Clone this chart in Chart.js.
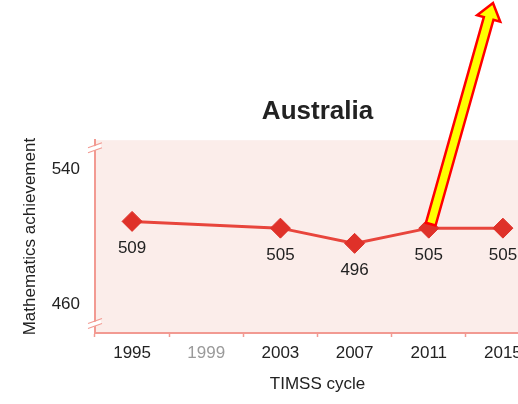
<!DOCTYPE html>
<html>
<head>
<meta charset="utf-8">
<script src="https://cdn.jsdelivr.net/npm/chart.js@4/dist/chart.umd.min.js"></script>
<style>
  html, body { margin: 0; padding: 0; background: #fff; overflow: hidden; }
  #wrap { width: 551px; height: 404px; }
</style>
</head>
<body>
<div id="wrap"><canvas id="chart" width="551" height="404"></canvas></div>
<script>
// Data
const cycles = ['1995', '1999', '2003', '2007', '2011', '2015'];
const scores = [509, null, 505, 496, 505, 505];
const scoreLabels = ['509', '', '505', '496', '505', '505'];
const yTicks = [460, 540];

const FONT = "'Liberation Sans', Arial, sans-serif";
const COLORS = {
  plotBg: '#FBEDEA',
  axis: '#F29A92',
  line: '#E8453C',
  marker: '#DF3129',
  text: '#222222',
  muted: '#9A9A9A'
};

// pink plot background
const plotBackground = {
  id: 'plotBackground',
  beforeDraw(chart) {
    const { ctx, chartArea: a } = chart;
    ctx.save();
    ctx.fillStyle = COLORS.plotBg;
    ctx.fillRect(a.left, a.top, a.right - a.left, a.bottom - a.top);
    ctx.restore();
  }
};

// value labels under each point
const valueLabels = {
  id: 'valueLabels',
  afterDatasetsDraw(chart) {
    const { ctx } = chart;
    const meta = chart.getDatasetMeta(0);
    ctx.save();
    ctx.font = '17px ' + FONT;
    ctx.fillStyle = COLORS.text;
    ctx.textAlign = 'center';
    ctx.textBaseline = 'middle';
    meta.data.forEach((pt, i) => {
      if (scores[i] == null) return;
      ctx.fillText(scoreLabels[i], pt.x, pt.y + 27);
    });
    ctx.restore();
  }
};

// axis break marks + callout arrow
const extras = {
  id: 'extras',
  afterDraw(chart) {
    const { ctx, chartArea: a } = chart;
    const x = a.left;
    ctx.save();
    [a.top + 8, a.bottom - 9].forEach(y => {
      ctx.strokeStyle = '#ffffff';
      ctx.lineWidth = 4;
      ctx.beginPath();
      ctx.moveTo(x - 6, y + 2);
      ctx.lineTo(x + 6, y - 2);
      ctx.stroke();
      ctx.strokeStyle = COLORS.axis;
      ctx.lineWidth = 1.2;
      [-2.5, 2.5].forEach(d => {
        ctx.beginPath();
        ctx.moveTo(x - 7, y + 2 + d);
        ctx.lineTo(x + 7, y - 3 + d);
        ctx.stroke();
      });
    });

    // arrow from the 2011 point up to the top edge
    const p = chart.getDatasetMeta(0).data[4];
    const sx = p.x + 2, sy = p.y - 4;
    const ex = 493, ey = 3;
    const ang = Math.atan2(ey - sy, ex - sx);
    const len = Math.hypot(ex - sx, ey - sy);
    const shaft = 5, head = 12, headLen = 16;
    ctx.translate(sx, sy);
    ctx.rotate(ang);
    ctx.beginPath();
    ctx.moveTo(0, -shaft);
    ctx.lineTo(len - headLen, -shaft);
    ctx.lineTo(len - headLen, -head);
    ctx.lineTo(len, 0);
    ctx.lineTo(len - headLen, head);
    ctx.lineTo(len - headLen, shaft);
    ctx.lineTo(0, shaft);
    ctx.closePath();
    ctx.fillStyle = '#FFFF00';
    ctx.fill();
    ctx.strokeStyle = '#FF0000';
    ctx.lineWidth = 2.5;
    ctx.lineJoin = 'miter';
    ctx.stroke();
    ctx.restore();
  }
};

new Chart(document.getElementById('chart'), {
  type: 'line',
  data: {
    labels: cycles,
    datasets: [{
      data: scores,
      borderColor: COLORS.line,
      borderWidth: 3,
      spanGaps: true,
      tension: 0,
      pointStyle: 'rectRot',
      pointRadius: 10,
      pointBackgroundColor: COLORS.marker,
      pointBorderColor: COLORS.marker,
      pointBorderWidth: 1
    }]
  },
  options: {
    responsive: false,
    animation: false,
    devicePixelRatio: 1,
    layout: { padding: { left: 0, right: 6, top: 0, bottom: 0 } },
    plugins: {
      legend: { display: false },
      tooltip: { enabled: false },
      title: {
        display: true,
        text: 'Australia',
        fullSize: false,
        color: COLORS.text,
        font: { family: FONT, size: 26, weight: 'bold' },
        padding: { top: 96, bottom: 13 }
      }
    },
    scales: {
      x: {
        offset: true,
        afterFit: (scale) => { scale.height = 71; },
        border: { color: COLORS.axis, width: 2 },
        grid: {
          offset: true,
          drawOnChartArea: false,
          color: COLORS.axis,
          tickLength: 4,
          tickWidth: 1.5
        },
        ticks: {
          padding: 6,
          color: (c) => c.index === 1 ? COLORS.muted : COLORS.text,
          font: { family: FONT, size: 17 }
        },
        title: {
          display: true,
          text: 'TIMSS cycle',
          color: COLORS.text,
          font: { family: FONT, size: 17 },
          padding: { top: 4, bottom: 9 }
        }
      },
      y: {
        min: 443,
        max: 557,
        afterFit: (scale) => { scale.width = 95; },
        afterBuildTicks: (scale) => { scale.ticks = yTicks.map(v => ({ value: v })); },
        border: { color: COLORS.axis, width: 2 },
        grid: { display: false },
        ticks: {
          padding: 7,
          color: COLORS.text,
          font: { family: FONT, size: 17 }
        },
        title: {
          display: true,
          text: 'Mathematics achievement',
          color: COLORS.text,
          font: { family: FONT, size: 17 },
          padding: { top: 20, bottom: 0 }
        }
      }
    }
  },
  plugins: [plotBackground, valueLabels, extras]
});
</script>
</body>
</html>
